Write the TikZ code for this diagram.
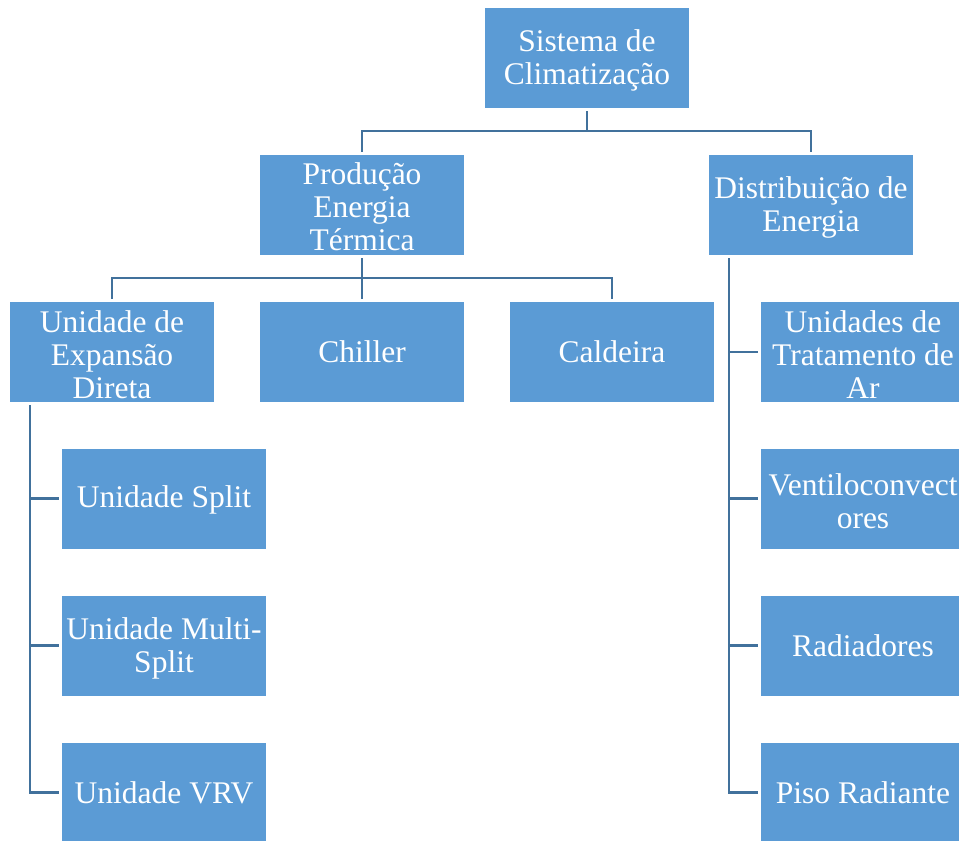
\documentclass[tikz,border=0pt]{standalone}
\usepackage{fontspec}
\setmainfont{Liberation Serif}
\newfontfamily\boxfont{Liberation Serif}
\definecolor{boxblue}{HTML}{5B9BD5}
\definecolor{linkblue}{HTML}{41719C}
\tikzset{
  unitbox/.style={rectangle, fill=boxblue, draw=white, line width=3pt,
    minimum width=207pt, minimum height=103pt, inner sep=0pt},
  boxtext/.style={align=center, text=white, inner sep=0pt,
    font=\boxfont\fontsize{31.5}{33}\selectfont},
  multitext/.style={boxtext, yshift=-2.5pt},
  link/.style={draw=linkblue, line width=2.5pt}
}
\begin{document}
\begin{tikzpicture}[x=1pt, y=-1pt]
\useasboundingbox[clip] (0,0) rectangle (959,841);
\fill[white] (0,0) rectangle (959,841);

% junction points of the connector tree
\coordinate (j1) at (587,131);
\coordinate (j2) at (362,278);
\coordinate (l0) at (30,402);
\coordinate (r0) at (729,255);

% box positions
\path (587,57.5)  coordinate (top)
      (362,204.5) coordinate (prod)
      (811,204.5) coordinate (dist)
      (112,352)   coordinate (ude)
      (362,352)   coordinate (chil)
      (612,352)   coordinate (cald)
      (164,498.5) coordinate (split)
      (164,645.5) coordinate (multi)
      (164,792.5) coordinate (vrv)
      (863,352)   coordinate (uta)
      (863,498.5) coordinate (vent)
      (863,645.5) coordinate (rad)
      (863,792.5) coordinate (piso);

% invisible box outlines, used as connector anchors
\begin{scope}[every node/.style={unitbox, draw=none, fill=none}]
\node (nTop)   at (top)   {};
\node (nProd)  at (prod)  {};
\node (nDist)  at (dist)  {};
\node (nUde)   at (ude)   {};
\node (nChil)  at (chil)  {};
\node (nCald)  at (cald)  {};
\node (nSplit) at (split) {};
\node (nMulti) at (multi) {};
\node (nVrv)   at (vrv)   {};
\node (nUta)   at (uta)   {};
\node (nVent)  at (vent)  {};
\node (nRad)   at (rad)   {};
\node (nPiso)  at (piso)  {};
\end{scope}

% connectors, under the boxes
\draw[link] (nTop.south) -- (j1) -| (nProd.north);
\draw[link] (j1) -| (nDist.north);
\draw[link] (nProd.south) -- (j2) -| (nUde.north);
\draw[link] (j2) -| (nChil.north);
\draw[link] (j2) -| (nCald.north);
\draw[link] (l0) |- (nSplit.west);
\draw[link] (l0) |- (nMulti.west);
\draw[link] (l0) |- (nVrv.west);
\draw[link] (r0) |- (nUta.west);
\draw[link] (r0) |- (nVent.west);
\draw[link] (r0) |- (nRad.west);
\draw[link] (r0) |- (nPiso.west);

% boxes with their texts
\node[unitbox, label={[multitext]center:{Sistema de\\Climatização}}] at (top) {};
\node[unitbox, label={[multitext]center:{Produção\\Energia\\Térmica}}] at (prod) {};
\node[unitbox, label={[multitext]center:{Distribuição de\\Energia}}] at (dist) {};
\node[unitbox, label={[multitext]center:{Unidade de\\Expansão\\Direta}}] at (ude) {};
\node[unitbox, label={[boxtext]center:{Chiller}}] at (chil) {};
\node[unitbox, label={[boxtext]center:{Caldeira}}] at (cald) {};
\node[unitbox, label={[boxtext, yshift=-1pt]center:{Unidade Split}}] at (split) {};
\node[unitbox, label={[multitext]center:{Unidade Multi-\\Split}}] at (multi) {};
\node[unitbox, label={[boxtext]center:{Unidade VRV}}] at (vrv) {};
\node[unitbox, label={[multitext]center:{Unidades de\\Tratamento de\\Ar}}] at (uta) {};
\node[unitbox, label={[multitext]center:{Ventiloconvect\\ores}}] at (vent) {};
\node[unitbox, label={[boxtext]center:{Radiadores}}] at (rad) {};
\node[unitbox, label={[boxtext]center:{Piso Radiante}}] at (piso) {};
\end{tikzpicture}
\end{document}
